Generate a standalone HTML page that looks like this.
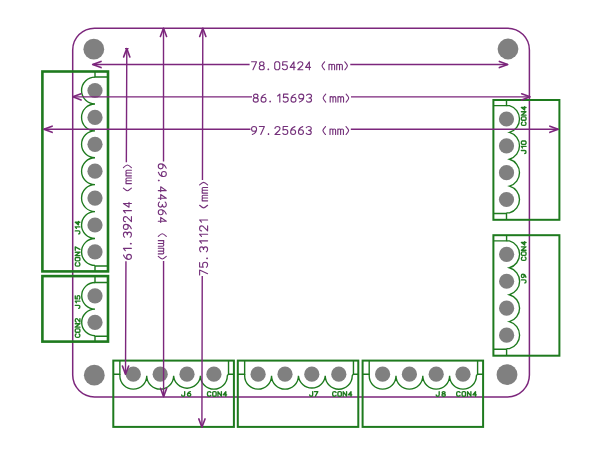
<!DOCTYPE html>
<html><head><meta charset="utf-8"><style>
html,body{margin:0;padding:0;background:#fff;width:600px;height:459px;overflow:hidden;}
svg{display:block;filter:blur(0.4px);}
</style></head><body>
<svg width="600" height="459" viewBox="0 0 600 459">
<path d="M94.5,28.2 H507.6 A21.8,21.8 0 0 1 529.4,50.0 V375.1 A21.8,21.8 0 0 1 507.6,396.9 H94.5 A21.8,21.8 0 0 1 72.7,375.1 V50.0 A21.8,21.8 0 0 1 94.5,28.2 Z" fill="none" stroke="#7c267c" stroke-width="1.5"/>
<circle cx="93.8" cy="49.2" r="10.4" fill="#808080"/>
<circle cx="508.0" cy="49.0" r="10.4" fill="#808080"/>
<circle cx="94.3" cy="375.2" r="10.4" fill="#808080"/>
<circle cx="507.0" cy="374.7" r="10.4" fill="#808080"/>
<rect x="42.4" y="71.5" width="65.6" height="199.9" fill="none" stroke="#1e7a1e" stroke-width="2.6"/>
<path d="M95.0,71.5 V77.05 H108.0 M95.0,271.4 V265.95 H108.0" fill="none" stroke="#1e7a1e" stroke-width="1.4"/>
<path d="M95.0,77.05 A13.45,13.45 0 0 0 95.0,103.95 A13.45,13.45 0 0 0 95.0,130.85 A13.45,13.45 0 0 0 95.0,157.75 A13.45,13.45 0 0 0 95.0,184.65 A13.45,13.45 0 0 0 95.0,211.55 A13.45,13.45 0 0 0 95.0,238.45 A13.45,13.45 0 0 0 95.0,265.35" fill="none" stroke="#1e7a1e" stroke-width="1.35"/>
<circle cx="95.0" cy="90.5" r="7.6" fill="#808080"/>
<circle cx="95.0" cy="117.4" r="7.6" fill="#808080"/>
<circle cx="95.0" cy="144.3" r="7.6" fill="#808080"/>
<circle cx="95.0" cy="171.2" r="7.6" fill="#808080"/>
<circle cx="95.0" cy="198.1" r="7.6" fill="#808080"/>
<circle cx="95.0" cy="225.0" r="7.6" fill="#808080"/>
<circle cx="95.0" cy="251.9" r="7.6" fill="#808080"/>
<rect x="42.4" y="276.1" width="65.6" height="65.5" fill="none" stroke="#1e7a1e" stroke-width="2.6"/>
<path d="M95.0,276.1 V282.5 H108.0 M95.0,341.6 V336.3 H108.0" fill="none" stroke="#1e7a1e" stroke-width="1.4"/>
<path d="M95.0,282.5 A13.3,13.3 0 0 0 95.0,309.1 A13.3,13.3 0 0 0 95.0,335.7" fill="none" stroke="#1e7a1e" stroke-width="1.35"/>
<circle cx="95.0" cy="295.8" r="7.6" fill="#808080"/>
<circle cx="95.0" cy="322.4" r="7.6" fill="#808080"/>
<rect x="493.4" y="100.0" width="66.0" height="119.8" fill="none" stroke="#1e7a1e" stroke-width="2.0"/>
<path d="M506.5,100.0 V105.58 H493.4 M506.5,219.8 V213.52 H493.4" fill="none" stroke="#1e7a1e" stroke-width="1.4"/>
<path d="M506.5,105.58 H509.50 A14.0,14.0 0 0 1 509.50,132.42 A14.0,14.0 0 0 1 509.50,159.25 A14.0,14.0 0 0 1 509.50,186.08 A14.0,14.0 0 0 1 509.50,212.92 H506.5" fill="none" stroke="#1e7a1e" stroke-width="1.35"/>
<circle cx="506.5" cy="119.0" r="7.6" fill="#808080"/>
<circle cx="506.5" cy="145.83" r="7.6" fill="#808080"/>
<circle cx="506.5" cy="172.67" r="7.6" fill="#808080"/>
<circle cx="506.5" cy="199.5" r="7.6" fill="#808080"/>
<rect x="493.4" y="235.2" width="66.0" height="120.5" fill="none" stroke="#1e7a1e" stroke-width="2.0"/>
<path d="M506.6,235.2 V240.83 H493.4 M506.6,355.7 V349.23 H493.4" fill="none" stroke="#1e7a1e" stroke-width="1.4"/>
<path d="M506.6,240.83 H509.40 A14.0,14.0 0 0 1 509.40,267.77 A14.0,14.0 0 0 1 509.40,294.73 A14.0,14.0 0 0 1 509.40,321.67 A14.0,14.0 0 0 1 509.40,348.62 H506.6" fill="none" stroke="#1e7a1e" stroke-width="1.35"/>
<circle cx="506.6" cy="254.3" r="7.6" fill="#808080"/>
<circle cx="506.6" cy="281.25" r="7.6" fill="#808080"/>
<circle cx="506.6" cy="308.2" r="7.6" fill="#808080"/>
<circle cx="506.6" cy="335.15" r="7.6" fill="#808080"/>
<rect x="113.3" y="360.6" width="120.6" height="66.3" fill="none" stroke="#1e7a1e" stroke-width="2.0"/>
<path d="M113.3,374.2 H119.87 V360.6 M233.9,374.2 H228.53 V360.6" fill="none" stroke="#1e7a1e" stroke-width="1.4"/>
<path d="M119.87,374.2 V375.7 A13.43,13.43 0 0 0 146.73,375.7 A13.43,13.43 0 0 0 173.63,375.7 A13.43,13.43 0 0 0 200.43,375.7 A13.43,13.43 0 0 0 227.33,375.7 L228.53,374.2" fill="none" stroke="#1e7a1e" stroke-width="1.35"/>
<circle cx="133.3" cy="374.2" r="7.6" fill="#808080"/>
<circle cx="160.2" cy="374.2" r="7.6" fill="#808080"/>
<circle cx="187.0" cy="374.2" r="7.6" fill="#808080"/>
<circle cx="213.9" cy="374.2" r="7.6" fill="#808080"/>
<rect x="237.8" y="360.6" width="120.5" height="66.3" fill="none" stroke="#1e7a1e" stroke-width="2.0"/>
<path d="M237.8,374.2 H244.65 V360.6 M358.3,374.2 H353.45 V360.6" fill="none" stroke="#1e7a1e" stroke-width="1.4"/>
<path d="M244.65,374.2 V375.7 A13.45,13.45 0 0 0 271.55,375.7 A13.45,13.45 0 0 0 298.45,375.7 A13.45,13.45 0 0 0 325.25,375.7 A13.45,13.45 0 0 0 352.25,375.7 L353.45,374.2" fill="none" stroke="#1e7a1e" stroke-width="1.35"/>
<circle cx="258.1" cy="374.2" r="7.6" fill="#808080"/>
<circle cx="285.0" cy="374.2" r="7.6" fill="#808080"/>
<circle cx="311.8" cy="374.2" r="7.6" fill="#808080"/>
<circle cx="338.8" cy="374.2" r="7.6" fill="#808080"/>
<rect x="362.6" y="360.6" width="120.5" height="66.3" fill="none" stroke="#1e7a1e" stroke-width="2.0"/>
<path d="M362.6,374.2 H369.2 V360.6 M483.1,374.2 H477.6 V360.6" fill="none" stroke="#1e7a1e" stroke-width="1.4"/>
<path d="M369.2,374.2 V375.7 A13.4,13.4 0 0 0 396.0,375.7 A13.4,13.4 0 0 0 422.8,375.7 A13.4,13.4 0 0 0 449.6,375.7 A13.4,13.4 0 0 0 476.4,375.7 L477.6,374.2" fill="none" stroke="#1e7a1e" stroke-width="1.35"/>
<circle cx="382.6" cy="374.2" r="7.6" fill="#808080"/>
<circle cx="409.4" cy="374.2" r="7.6" fill="#808080"/>
<circle cx="436.2" cy="374.2" r="7.6" fill="#808080"/>
<circle cx="463.0" cy="374.2" r="7.6" fill="#808080"/>
<g transform="translate(181.68,391.57) rotate(0)" fill="none" stroke="#1e7a1e" stroke-width="1.35" stroke-linecap="round" stroke-linejoin="round"><path transform="translate(0.00,0) scale(0.68,0.58)" d="M4.4,0 V5.8 Q4.4,8 2.2,8 Q0,8 0,5.8" vector-effect="non-scaling-stroke"/><path transform="translate(5.75,0) scale(0.68,0.58)" d="M4.3,0.1 Q0,1.6 0,5.6 Q0,8 2.5,8 Q5,8 5,5.6 Q5,3.2 2.5,3.2 Q0.8,3.2 0.1,4.6" vector-effect="non-scaling-stroke"/></g>
<g transform="translate(207.48,391.57) rotate(0)" fill="none" stroke="#1e7a1e" stroke-width="1.35" stroke-linecap="round" stroke-linejoin="round"><path transform="translate(0.00,0) scale(0.68,0.58)" d="M5,1.6 Q4.4,0 2.5,0 Q0,0 0,2.6 V5.4 Q0,8 2.5,8 Q4.4,8 5,6.4" vector-effect="non-scaling-stroke"/><path transform="translate(5.25,0) scale(0.68,0.58)" d="M1.6,0 H3.4 Q5,0 5,1.6 V6.4 Q5,8 3.4,8 H1.6 Q0,8 0,6.4 V1.6 Q0,0 1.6,0 Z" vector-effect="non-scaling-stroke"/><path transform="translate(10.50,0) scale(0.68,0.58)" d="M0,8 V0 L5,8 V0" vector-effect="non-scaling-stroke"/><path transform="translate(15.75,0) scale(0.68,0.58)" d="M3.8,8 V0 L0,5.6 H5" vector-effect="non-scaling-stroke"/></g>
<g transform="translate(309.68,391.57) rotate(0)" fill="none" stroke="#1e7a1e" stroke-width="1.35" stroke-linecap="round" stroke-linejoin="round"><path transform="translate(0.00,0) scale(0.68,0.58)" d="M4.4,0 V5.8 Q4.4,8 2.2,8 Q0,8 0,5.8" vector-effect="non-scaling-stroke"/><path transform="translate(4.75,0) scale(0.68,0.58)" d="M0,0 H5 L1.4,8" vector-effect="non-scaling-stroke"/></g>
<g transform="translate(332.68,391.57) rotate(0)" fill="none" stroke="#1e7a1e" stroke-width="1.35" stroke-linecap="round" stroke-linejoin="round"><path transform="translate(0.00,0) scale(0.68,0.58)" d="M5,1.6 Q4.4,0 2.5,0 Q0,0 0,2.6 V5.4 Q0,8 2.5,8 Q4.4,8 5,6.4" vector-effect="non-scaling-stroke"/><path transform="translate(5.25,0) scale(0.68,0.58)" d="M1.6,0 H3.4 Q5,0 5,1.6 V6.4 Q5,8 3.4,8 H1.6 Q0,8 0,6.4 V1.6 Q0,0 1.6,0 Z" vector-effect="non-scaling-stroke"/><path transform="translate(10.50,0) scale(0.68,0.58)" d="M0,8 V0 L5,8 V0" vector-effect="non-scaling-stroke"/><path transform="translate(15.75,0) scale(0.68,0.58)" d="M3.8,8 V0 L0,5.6 H5" vector-effect="non-scaling-stroke"/></g>
<g transform="translate(436.18,391.57) rotate(0)" fill="none" stroke="#1e7a1e" stroke-width="1.35" stroke-linecap="round" stroke-linejoin="round"><path transform="translate(0.00,0) scale(0.68,0.58)" d="M4.4,0 V5.8 Q4.4,8 2.2,8 Q0,8 0,5.8" vector-effect="non-scaling-stroke"/><path transform="translate(5.75,0) scale(0.68,0.58)" d="M2.5,3.8 Q0.3,3.8 0.3,1.9 Q0.3,0 2.5,0 Q4.7,0 4.7,1.9 Q4.7,3.8 2.5,3.8 Q0,3.8 0,5.9 Q0,8 2.5,8 Q5,8 5,5.9 Q5,3.8 2.5,3.8 Z" vector-effect="non-scaling-stroke"/></g>
<g transform="translate(456.68,391.57) rotate(0)" fill="none" stroke="#1e7a1e" stroke-width="1.35" stroke-linecap="round" stroke-linejoin="round"><path transform="translate(0.00,0) scale(0.68,0.58)" d="M5,1.6 Q4.4,0 2.5,0 Q0,0 0,2.6 V5.4 Q0,8 2.5,8 Q4.4,8 5,6.4" vector-effect="non-scaling-stroke"/><path transform="translate(5.42,0) scale(0.68,0.58)" d="M1.6,0 H3.4 Q5,0 5,1.6 V6.4 Q5,8 3.4,8 H1.6 Q0,8 0,6.4 V1.6 Q0,0 1.6,0 Z" vector-effect="non-scaling-stroke"/><path transform="translate(10.83,0) scale(0.68,0.58)" d="M0,8 V0 L5,8 V0" vector-effect="non-scaling-stroke"/><path transform="translate(16.25,0) scale(0.68,0.58)" d="M3.8,8 V0 L0,5.6 H5" vector-effect="non-scaling-stroke"/></g>
<g transform="translate(75.27,233.92) rotate(-90)" fill="none" stroke="#1e7a1e" stroke-width="1.35" stroke-linecap="round" stroke-linejoin="round"><path transform="translate(0.00,0) scale(0.68,0.58)" d="M4.4,0 V5.8 Q4.4,8 2.2,8 Q0,8 0,5.8" vector-effect="non-scaling-stroke"/><path transform="translate(5.12,0) scale(0.68,0.58)" d="M0.6,1.9 L2.8,0 V8" vector-effect="non-scaling-stroke"/><path transform="translate(9.05,0) scale(0.68,0.58)" d="M3.8,8 V0 L0,5.6 H5" vector-effect="non-scaling-stroke"/></g>
<g transform="translate(75.27,266.12) rotate(-90)" fill="none" stroke="#1e7a1e" stroke-width="1.35" stroke-linecap="round" stroke-linejoin="round"><path transform="translate(0.00,0) scale(0.68,0.58)" d="M5,1.6 Q4.4,0 2.5,0 Q0,0 0,2.6 V5.4 Q0,8 2.5,8 Q4.4,8 5,6.4" vector-effect="non-scaling-stroke"/><path transform="translate(5.25,0) scale(0.68,0.58)" d="M1.6,0 H3.4 Q5,0 5,1.6 V6.4 Q5,8 3.4,8 H1.6 Q0,8 0,6.4 V1.6 Q0,0 1.6,0 Z" vector-effect="non-scaling-stroke"/><path transform="translate(10.50,0) scale(0.68,0.58)" d="M0,8 V0 L5,8 V0" vector-effect="non-scaling-stroke"/><path transform="translate(15.75,0) scale(0.68,0.58)" d="M0,0 H5 L1.4,8" vector-effect="non-scaling-stroke"/></g>
<g transform="translate(75.27,308.32) rotate(-90)" fill="none" stroke="#1e7a1e" stroke-width="1.35" stroke-linecap="round" stroke-linejoin="round"><path transform="translate(0.00,0) scale(0.68,0.58)" d="M4.4,0 V5.8 Q4.4,8 2.2,8 Q0,8 0,5.8" vector-effect="non-scaling-stroke"/><path transform="translate(5.23,0) scale(0.68,0.58)" d="M0.6,1.9 L2.8,0 V8" vector-effect="non-scaling-stroke"/><path transform="translate(9.25,0) scale(0.68,0.58)" d="M4.8,0 H0.4 L0.2,3.6 Q1,3 2.5,3 Q5,3 5,5.5 Q5,8 2.5,8 Q0.6,8 0,6.8" vector-effect="non-scaling-stroke"/></g>
<g transform="translate(75.27,337.32) rotate(-90)" fill="none" stroke="#1e7a1e" stroke-width="1.35" stroke-linecap="round" stroke-linejoin="round"><path transform="translate(0.00,0) scale(0.68,0.58)" d="M5,1.6 Q4.4,0 2.5,0 Q0,0 0,2.6 V5.4 Q0,8 2.5,8 Q4.4,8 5,6.4" vector-effect="non-scaling-stroke"/><path transform="translate(5.08,0) scale(0.68,0.58)" d="M1.6,0 H3.4 Q5,0 5,1.6 V6.4 Q5,8 3.4,8 H1.6 Q0,8 0,6.4 V1.6 Q0,0 1.6,0 Z" vector-effect="non-scaling-stroke"/><path transform="translate(10.17,0) scale(0.68,0.58)" d="M0,8 V0 L5,8 V0" vector-effect="non-scaling-stroke"/><path transform="translate(15.25,0) scale(0.68,0.58)" d="M0,2 Q0,0 2.5,0 Q5,0 5,2.1 Q5,3.4 3.6,4.5 L0,8 H5" vector-effect="non-scaling-stroke"/></g>
<g transform="translate(521.38,125.42) rotate(-90)" fill="none" stroke="#1e7a1e" stroke-width="1.35" stroke-linecap="round" stroke-linejoin="round"><path transform="translate(0.00,0) scale(0.68,0.58)" d="M5,1.6 Q4.4,0 2.5,0 Q0,0 0,2.6 V5.4 Q0,8 2.5,8 Q4.4,8 5,6.4" vector-effect="non-scaling-stroke"/><path transform="translate(5.12,0) scale(0.68,0.58)" d="M1.6,0 H3.4 Q5,0 5,1.6 V6.4 Q5,8 3.4,8 H1.6 Q0,8 0,6.4 V1.6 Q0,0 1.6,0 Z" vector-effect="non-scaling-stroke"/><path transform="translate(10.23,0) scale(0.68,0.58)" d="M0,8 V0 L5,8 V0" vector-effect="non-scaling-stroke"/><path transform="translate(15.35,0) scale(0.68,0.58)" d="M3.8,8 V0 L0,5.6 H5" vector-effect="non-scaling-stroke"/></g>
<g transform="translate(521.38,153.52) rotate(-90)" fill="none" stroke="#1e7a1e" stroke-width="1.35" stroke-linecap="round" stroke-linejoin="round"><path transform="translate(0.00,0) scale(0.68,0.58)" d="M4.4,0 V5.8 Q4.4,8 2.2,8 Q0,8 0,5.8" vector-effect="non-scaling-stroke"/><path transform="translate(5.17,0) scale(0.68,0.58)" d="M0.6,1.9 L2.8,0 V8" vector-effect="non-scaling-stroke"/><path transform="translate(9.15,0) scale(0.68,0.58)" d="M1.3,0 H3.7 L5,1.3 V6.7 L3.7,8 H1.3 L0,6.7 V1.3 Z" vector-effect="non-scaling-stroke"/></g>
<g transform="translate(521.38,260.43) rotate(-90)" fill="none" stroke="#1e7a1e" stroke-width="1.35" stroke-linecap="round" stroke-linejoin="round"><path transform="translate(0.00,0) scale(0.68,0.58)" d="M5,1.6 Q4.4,0 2.5,0 Q0,0 0,2.6 V5.4 Q0,8 2.5,8 Q4.4,8 5,6.4" vector-effect="non-scaling-stroke"/><path transform="translate(5.12,0) scale(0.68,0.58)" d="M1.6,0 H3.4 Q5,0 5,1.6 V6.4 Q5,8 3.4,8 H1.6 Q0,8 0,6.4 V1.6 Q0,0 1.6,0 Z" vector-effect="non-scaling-stroke"/><path transform="translate(10.23,0) scale(0.68,0.58)" d="M0,8 V0 L5,8 V0" vector-effect="non-scaling-stroke"/><path transform="translate(15.35,0) scale(0.68,0.58)" d="M3.8,8 V0 L0,5.6 H5" vector-effect="non-scaling-stroke"/></g>
<g transform="translate(521.38,282.93) rotate(-90)" fill="none" stroke="#1e7a1e" stroke-width="1.35" stroke-linecap="round" stroke-linejoin="round"><path transform="translate(0.00,0) scale(0.68,0.58)" d="M4.4,0 V5.8 Q4.4,8 2.2,8 Q0,8 0,5.8" vector-effect="non-scaling-stroke"/><path transform="translate(5.25,0) scale(0.68,0.58)" d="M0.7,7.9 Q5,6.4 5,2.4 Q5,0 2.5,0 Q0,0 0,2.4 Q0,4.8 2.5,4.8 Q4.2,4.8 4.9,3.4" vector-effect="non-scaling-stroke"/></g>
<path d="M92.7,64.5 H249.6 M350.3,64.5 H507.7 " fill="none" stroke="#7c267c" stroke-width="1.4"/>
<path d="M101.00,61.40 L92.70,64.50 L101.00,67.60 M499.40,67.60 L507.70,64.50 L499.40,61.40" fill="none" stroke="#7c267c" stroke-width="1.6" stroke-linejoin="round" stroke-linecap="round"/>
<g transform="translate(251.56,61.76) rotate(0)" fill="none" stroke="#74307a" stroke-width="1.12" stroke-linecap="round" stroke-linejoin="round"><path transform="translate(0.00,0) scale(1.0,1.0)" d="M0,0 H5 L1.4,8" vector-effect="non-scaling-stroke"/><path transform="translate(7.72,0) scale(1.0,1.0)" d="M2.5,3.8 Q0.3,3.8 0.3,1.9 Q0.3,0 2.5,0 Q4.7,0 4.7,1.9 Q4.7,3.8 2.5,3.8 Q0,3.8 0,5.9 Q0,8 2.5,8 Q5,8 5,5.9 Q5,3.8 2.5,3.8 Z" vector-effect="non-scaling-stroke"/><path transform="translate(16.13,0) scale(1.0,1.0)" d="M0.6,7.0 V7.9 M0.2,7.45 H1.0" vector-effect="non-scaling-stroke"/><path transform="translate(23.15,0) scale(1.0,1.0)" d="M1.3,0 H3.7 L5,1.3 V6.7 L3.7,8 H1.3 L0,6.7 V1.3 Z" vector-effect="non-scaling-stroke"/><path transform="translate(30.86,0) scale(1.0,1.0)" d="M4.8,0 H0.4 L0.2,3.6 Q1,3 2.5,3 Q5,3 5,5.5 Q5,8 2.5,8 Q0.6,8 0,6.8" vector-effect="non-scaling-stroke"/><path transform="translate(38.58,0) scale(1.0,1.0)" d="M3.8,8 V0 L0,5.6 H5" vector-effect="non-scaling-stroke"/><path transform="translate(46.29,0) scale(1.0,1.0)" d="M0,2 Q0,0 2.5,0 Q5,0 5,2.1 Q5,3.4 3.6,4.5 L0,8 H5" vector-effect="non-scaling-stroke"/><path transform="translate(54.01,0) scale(1.0,1.0)" d="M3.8,8 V0 L0,5.6 H5" vector-effect="non-scaling-stroke"/><path transform="translate(70.43,0) scale(1.0,1.0)" d="M2.6,0 Q0,2.8 0,4 Q0,5.2 2.6,8" vector-effect="non-scaling-stroke"/><path transform="translate(77.45,0) scale(1.0,1.0)" d="M0,8 V2.5 M0,3.5 Q0.3,2.5 1.4,2.5 Q2.8,2.5 2.8,3.6 V8 M2.8,3.6 Q2.8,2.5 4.2,2.5 Q5.6,2.5 5.6,3.6 V8" vector-effect="non-scaling-stroke"/><path transform="translate(85.17,0) scale(1.0,1.0)" d="M0,8 V2.5 M0,3.5 Q0.3,2.5 1.4,2.5 Q2.8,2.5 2.8,3.6 V8 M2.8,3.6 Q2.8,2.5 4.2,2.5 Q5.6,2.5 5.6,3.6 V8" vector-effect="non-scaling-stroke"/><path transform="translate(93.28,0) scale(1.0,1.0)" d="M0,0 Q2.6,2.8 2.6,4 Q2.6,5.2 0,8" vector-effect="non-scaling-stroke"/></g>
<path d="M72.8,96.85 H252.0 M351.0,96.85 H530.0 " fill="none" stroke="#7c267c" stroke-width="1.4"/>
<path d="M81.10,93.75 L72.80,96.85 L81.10,99.95 M521.70,99.95 L530.00,96.85 L521.70,93.75" fill="none" stroke="#7c267c" stroke-width="1.6" stroke-linejoin="round" stroke-linecap="round"/>
<g transform="translate(253.26,94.11) rotate(0)" fill="none" stroke="#74307a" stroke-width="1.12" stroke-linecap="round" stroke-linejoin="round"><path transform="translate(0.00,0) scale(1.0,1.0)" d="M2.5,3.8 Q0.3,3.8 0.3,1.9 Q0.3,0 2.5,0 Q4.7,0 4.7,1.9 Q4.7,3.8 2.5,3.8 Q0,3.8 0,5.9 Q0,8 2.5,8 Q5,8 5,5.9 Q5,3.8 2.5,3.8 Z" vector-effect="non-scaling-stroke"/><path transform="translate(7.78,0) scale(1.0,1.0)" d="M4.3,0.1 Q0,1.6 0,5.6 Q0,8 2.5,8 Q5,8 5,5.6 Q5,3.2 2.5,3.2 Q0.8,3.2 0.1,4.6" vector-effect="non-scaling-stroke"/><path transform="translate(16.26,0) scale(1.0,1.0)" d="M0.6,7.0 V7.9 M0.2,7.45 H1.0" vector-effect="non-scaling-stroke"/><path transform="translate(23.76,0) scale(1.0,1.0)" d="M0.6,1.9 L2.8,0 V8" vector-effect="non-scaling-stroke"/><path transform="translate(29.95,0) scale(1.0,1.0)" d="M4.8,0 H0.4 L0.2,3.6 Q1,3 2.5,3 Q5,3 5,5.5 Q5,8 2.5,8 Q0.6,8 0,6.8" vector-effect="non-scaling-stroke"/><path transform="translate(37.73,0) scale(1.0,1.0)" d="M4.3,0.1 Q0,1.6 0,5.6 Q0,8 2.5,8 Q5,8 5,5.6 Q5,3.2 2.5,3.2 Q0.8,3.2 0.1,4.6" vector-effect="non-scaling-stroke"/><path transform="translate(45.51,0) scale(1.0,1.0)" d="M0.7,7.9 Q5,6.4 5,2.4 Q5,0 2.5,0 Q0,0 0,2.4 Q0,4.8 2.5,4.8 Q4.2,4.8 4.9,3.4" vector-effect="non-scaling-stroke"/><path transform="translate(53.28,0) scale(1.0,1.0)" d="M0,1.2 Q0.6,0 2.5,0 Q5,0 5,2 Q5,3.9 2.4,3.9 Q5,3.9 5,6 Q5,8 2.5,8 Q0.6,8 0,6.8" vector-effect="non-scaling-stroke"/><path transform="translate(69.85,0) scale(1.0,1.0)" d="M2.6,0 Q0,2.8 0,4 Q0,5.2 2.6,8" vector-effect="non-scaling-stroke"/><path transform="translate(76.92,0) scale(1.0,1.0)" d="M0,8 V2.5 M0,3.5 Q0.3,2.5 1.4,2.5 Q2.8,2.5 2.8,3.6 V8 M2.8,3.6 Q2.8,2.5 4.2,2.5 Q5.6,2.5 5.6,3.6 V8" vector-effect="non-scaling-stroke"/><path transform="translate(84.70,0) scale(1.0,1.0)" d="M0,8 V2.5 M0,3.5 Q0.3,2.5 1.4,2.5 Q2.8,2.5 2.8,3.6 V8 M2.8,3.6 Q2.8,2.5 4.2,2.5 Q5.6,2.5 5.6,3.6 V8" vector-effect="non-scaling-stroke"/><path transform="translate(92.88,0) scale(1.0,1.0)" d="M0,0 Q2.6,2.8 2.6,4 Q2.6,5.2 0,8" vector-effect="non-scaling-stroke"/></g>
<path d="M43.8,129.25 H250.5 M350.8,129.25 H558.2 " fill="none" stroke="#7c267c" stroke-width="1.4"/>
<path d="M52.10,126.15 L43.80,129.25 L52.10,132.35 M549.90,132.35 L558.20,129.25 L549.90,126.15" fill="none" stroke="#7c267c" stroke-width="1.6" stroke-linejoin="round" stroke-linecap="round"/>
<g transform="translate(251.56,126.51) rotate(0)" fill="none" stroke="#74307a" stroke-width="1.12" stroke-linecap="round" stroke-linejoin="round"><path transform="translate(0.00,0) scale(1.0,1.0)" d="M0.7,7.9 Q5,6.4 5,2.4 Q5,0 2.5,0 Q0,0 0,2.4 Q0,4.8 2.5,4.8 Q4.2,4.8 4.9,3.4" vector-effect="non-scaling-stroke"/><path transform="translate(7.81,0) scale(1.0,1.0)" d="M0,0 H5 L1.4,8" vector-effect="non-scaling-stroke"/><path transform="translate(16.33,0) scale(1.0,1.0)" d="M0.6,7.0 V7.9 M0.2,7.45 H1.0" vector-effect="non-scaling-stroke"/><path transform="translate(23.44,0) scale(1.0,1.0)" d="M0,2 Q0,0 2.5,0 Q5,0 5,2.1 Q5,3.4 3.6,4.5 L0,8 H5" vector-effect="non-scaling-stroke"/><path transform="translate(31.26,0) scale(1.0,1.0)" d="M4.8,0 H0.4 L0.2,3.6 Q1,3 2.5,3 Q5,3 5,5.5 Q5,8 2.5,8 Q0.6,8 0,6.8" vector-effect="non-scaling-stroke"/><path transform="translate(39.07,0) scale(1.0,1.0)" d="M4.3,0.1 Q0,1.6 0,5.6 Q0,8 2.5,8 Q5,8 5,5.6 Q5,3.2 2.5,3.2 Q0.8,3.2 0.1,4.6" vector-effect="non-scaling-stroke"/><path transform="translate(46.89,0) scale(1.0,1.0)" d="M4.3,0.1 Q0,1.6 0,5.6 Q0,8 2.5,8 Q5,8 5,5.6 Q5,3.2 2.5,3.2 Q0.8,3.2 0.1,4.6" vector-effect="non-scaling-stroke"/><path transform="translate(54.70,0) scale(1.0,1.0)" d="M0,1.2 Q0.6,0 2.5,0 Q5,0 5,2 Q5,3.9 2.4,3.9 Q5,3.9 5,6 Q5,8 2.5,8 Q0.6,8 0,6.8" vector-effect="non-scaling-stroke"/><path transform="translate(71.34,0) scale(1.0,1.0)" d="M2.6,0 Q0,2.8 0,4 Q0,5.2 2.6,8" vector-effect="non-scaling-stroke"/><path transform="translate(78.45,0) scale(1.0,1.0)" d="M0,8 V2.5 M0,3.5 Q0.3,2.5 1.4,2.5 Q2.8,2.5 2.8,3.6 V8 M2.8,3.6 Q2.8,2.5 4.2,2.5 Q5.6,2.5 5.6,3.6 V8" vector-effect="non-scaling-stroke"/><path transform="translate(86.26,0) scale(1.0,1.0)" d="M0,8 V2.5 M0,3.5 Q0.3,2.5 1.4,2.5 Q2.8,2.5 2.8,3.6 V8 M2.8,3.6 Q2.8,2.5 4.2,2.5 Q5.6,2.5 5.6,3.6 V8" vector-effect="non-scaling-stroke"/><path transform="translate(94.48,0) scale(1.0,1.0)" d="M0,0 Q2.6,2.8 2.6,4 Q2.6,5.2 0,8" vector-effect="non-scaling-stroke"/></g>
<path d="M126.8,48.6 L126.35,162.2 M125.95,261.3 L125.5,374.3  M125.0,48.6 H128.6" fill="none" stroke="#7c267c" stroke-width="1.4"/>
<path d="M129.87,56.91 L126.80,48.60 L123.67,56.89 M122.43,365.99 L125.50,374.30 L128.63,366.01" fill="none" stroke="#7c267c" stroke-width="1.6" stroke-linejoin="round" stroke-linecap="round"/>
<g transform="translate(123.41,259.34) rotate(-90)" fill="none" stroke="#74307a" stroke-width="1.12" stroke-linecap="round" stroke-linejoin="round"><path transform="translate(0.00,0) scale(1.0,1.0)" d="M4.3,0.1 Q0,1.6 0,5.6 Q0,8 2.5,8 Q5,8 5,5.6 Q5,3.2 2.5,3.2 Q0.8,3.2 0.1,4.6" vector-effect="non-scaling-stroke"/><path transform="translate(8.20,0) scale(1.0,1.0)" d="M0.6,1.9 L2.8,0 V8" vector-effect="non-scaling-stroke"/><path transform="translate(15.09,0) scale(1.0,1.0)" d="M0.6,7.0 V7.9 M0.2,7.45 H1.0" vector-effect="non-scaling-stroke"/><path transform="translate(22.16,0) scale(1.0,1.0)" d="M0,1.2 Q0.6,0 2.5,0 Q5,0 5,2 Q5,3.9 2.4,3.9 Q5,3.9 5,6 Q5,8 2.5,8 Q0.6,8 0,6.8" vector-effect="non-scaling-stroke"/><path transform="translate(29.94,0) scale(1.0,1.0)" d="M0.7,7.9 Q5,6.4 5,2.4 Q5,0 2.5,0 Q0,0 0,2.4 Q0,4.8 2.5,4.8 Q4.2,4.8 4.9,3.4" vector-effect="non-scaling-stroke"/><path transform="translate(37.71,0) scale(1.0,1.0)" d="M0,2 Q0,0 2.5,0 Q5,0 5,2.1 Q5,3.4 3.6,4.5 L0,8 H5" vector-effect="non-scaling-stroke"/><path transform="translate(45.91,0) scale(1.0,1.0)" d="M0.6,1.9 L2.8,0 V8" vector-effect="non-scaling-stroke"/><path transform="translate(52.10,0) scale(1.0,1.0)" d="M3.8,8 V0 L0,5.6 H5" vector-effect="non-scaling-stroke"/><path transform="translate(68.65,0) scale(1.0,1.0)" d="M2.6,0 Q0,2.8 0,4 Q0,5.2 2.6,8" vector-effect="non-scaling-stroke"/><path transform="translate(75.73,0) scale(1.0,1.0)" d="M0,8 V2.5 M0,3.5 Q0.3,2.5 1.4,2.5 Q2.8,2.5 2.8,3.6 V8 M2.8,3.6 Q2.8,2.5 4.2,2.5 Q5.6,2.5 5.6,3.6 V8" vector-effect="non-scaling-stroke"/><path transform="translate(83.50,0) scale(1.0,1.0)" d="M0,8 V2.5 M0,3.5 Q0.3,2.5 1.4,2.5 Q2.8,2.5 2.8,3.6 V8 M2.8,3.6 Q2.8,2.5 4.2,2.5 Q5.6,2.5 5.6,3.6 V8" vector-effect="non-scaling-stroke"/><path transform="translate(91.68,0) scale(1.0,1.0)" d="M0,0 Q2.6,2.8 2.6,4 Q2.6,5.2 0,8" vector-effect="non-scaling-stroke"/></g>
<path d="M163.5,28.2 L163.54,161.6 M163.56,261.0 L163.6,396.6 " fill="none" stroke="#7c267c" stroke-width="1.4"/>
<path d="M166.60,36.50 L163.50,28.20 L160.40,36.50 M160.50,388.30 L163.60,396.60 L166.70,388.30" fill="none" stroke="#7c267c" stroke-width="1.6" stroke-linejoin="round" stroke-linecap="round"/>
<g transform="translate(166.29,163.86) rotate(90)" fill="none" stroke="#74307a" stroke-width="1.12" stroke-linecap="round" stroke-linejoin="round"><path transform="translate(0.00,0) scale(1.0,1.0)" d="M4.3,0.1 Q0,1.6 0,5.6 Q0,8 2.5,8 Q5,8 5,5.6 Q5,3.2 2.5,3.2 Q0.8,3.2 0.1,4.6" vector-effect="non-scaling-stroke"/><path transform="translate(7.65,0) scale(1.0,1.0)" d="M0.7,7.9 Q5,6.4 5,2.4 Q5,0 2.5,0 Q0,0 0,2.4 Q0,4.8 2.5,4.8 Q4.2,4.8 4.9,3.4" vector-effect="non-scaling-stroke"/><path transform="translate(15.99,0) scale(1.0,1.0)" d="M0.6,7.0 V7.9 M0.2,7.45 H1.0" vector-effect="non-scaling-stroke"/><path transform="translate(22.95,0) scale(1.0,1.0)" d="M3.8,8 V0 L0,5.6 H5" vector-effect="non-scaling-stroke"/><path transform="translate(30.60,0) scale(1.0,1.0)" d="M3.8,8 V0 L0,5.6 H5" vector-effect="non-scaling-stroke"/><path transform="translate(38.25,0) scale(1.0,1.0)" d="M0,1.2 Q0.6,0 2.5,0 Q5,0 5,2 Q5,3.9 2.4,3.9 Q5,3.9 5,6 Q5,8 2.5,8 Q0.6,8 0,6.8" vector-effect="non-scaling-stroke"/><path transform="translate(45.89,0) scale(1.0,1.0)" d="M4.3,0.1 Q0,1.6 0,5.6 Q0,8 2.5,8 Q5,8 5,5.6 Q5,3.2 2.5,3.2 Q0.8,3.2 0.1,4.6" vector-effect="non-scaling-stroke"/><path transform="translate(53.54,0) scale(1.0,1.0)" d="M3.8,8 V0 L0,5.6 H5" vector-effect="non-scaling-stroke"/><path transform="translate(69.83,0) scale(1.0,1.0)" d="M2.6,0 Q0,2.8 0,4 Q0,5.2 2.6,8" vector-effect="non-scaling-stroke"/><path transform="translate(76.79,0) scale(1.0,1.0)" d="M0,8 V2.5 M0,3.5 Q0.3,2.5 1.4,2.5 Q2.8,2.5 2.8,3.6 V8 M2.8,3.6 Q2.8,2.5 4.2,2.5 Q5.6,2.5 5.6,3.6 V8" vector-effect="non-scaling-stroke"/><path transform="translate(84.44,0) scale(1.0,1.0)" d="M0,8 V2.5 M0,3.5 Q0.3,2.5 1.4,2.5 Q2.8,2.5 2.8,3.6 V8 M2.8,3.6 Q2.8,2.5 4.2,2.5 Q5.6,2.5 5.6,3.6 V8" vector-effect="non-scaling-stroke"/><path transform="translate(92.48,0) scale(1.0,1.0)" d="M0,0 Q2.6,2.8 2.6,4 Q2.6,5.2 0,8" vector-effect="non-scaling-stroke"/></g>
<path d="M202.8,28.2 L202.46,180.1 M202.24,276.1 L201.9,427.2 " fill="none" stroke="#7c267c" stroke-width="1.4"/>
<path d="M205.88,36.51 L202.80,28.20 L199.68,36.49 M198.82,418.89 L201.90,427.20 L205.02,418.91" fill="none" stroke="#7c267c" stroke-width="1.6" stroke-linejoin="round" stroke-linecap="round"/>
<g transform="translate(199.61,275.04) rotate(-90)" fill="none" stroke="#74307a" stroke-width="1.12" stroke-linecap="round" stroke-linejoin="round"><path transform="translate(0.00,0) scale(1.0,1.0)" d="M0,0 H5 L1.4,8" vector-effect="non-scaling-stroke"/><path transform="translate(7.74,0) scale(1.0,1.0)" d="M4.8,0 H0.4 L0.2,3.6 Q1,3 2.5,3 Q5,3 5,5.5 Q5,8 2.5,8 Q0.6,8 0,6.8" vector-effect="non-scaling-stroke"/><path transform="translate(16.18,0) scale(1.0,1.0)" d="M0.6,7.0 V7.9 M0.2,7.45 H1.0" vector-effect="non-scaling-stroke"/><path transform="translate(23.22,0) scale(1.0,1.0)" d="M0,1.2 Q0.6,0 2.5,0 Q5,0 5,2 Q5,3.9 2.4,3.9 Q5,3.9 5,6 Q5,8 2.5,8 Q0.6,8 0,6.8" vector-effect="non-scaling-stroke"/><path transform="translate(31.37,0) scale(1.0,1.0)" d="M0.6,1.9 L2.8,0 V8" vector-effect="non-scaling-stroke"/><path transform="translate(37.95,0) scale(1.0,1.0)" d="M0.6,1.9 L2.8,0 V8" vector-effect="non-scaling-stroke"/><path transform="translate(44.11,0) scale(1.0,1.0)" d="M0,2 Q0,0 2.5,0 Q5,0 5,2.1 Q5,3.4 3.6,4.5 L0,8 H5" vector-effect="non-scaling-stroke"/><path transform="translate(52.27,0) scale(1.0,1.0)" d="M0.6,1.9 L2.8,0 V8" vector-effect="non-scaling-stroke"/><path transform="translate(67.16,0) scale(1.0,1.0)" d="M2.6,0 Q0,2.8 0,4 Q0,5.2 2.6,8" vector-effect="non-scaling-stroke"/><path transform="translate(74.20,0) scale(1.0,1.0)" d="M0,8 V2.5 M0,3.5 Q0.3,2.5 1.4,2.5 Q2.8,2.5 2.8,3.6 V8 M2.8,3.6 Q2.8,2.5 4.2,2.5 Q5.6,2.5 5.6,3.6 V8" vector-effect="non-scaling-stroke"/><path transform="translate(81.94,0) scale(1.0,1.0)" d="M0,8 V2.5 M0,3.5 Q0.3,2.5 1.4,2.5 Q2.8,2.5 2.8,3.6 V8 M2.8,3.6 Q2.8,2.5 4.2,2.5 Q5.6,2.5 5.6,3.6 V8" vector-effect="non-scaling-stroke"/><path transform="translate(90.08,0) scale(1.0,1.0)" d="M0,0 Q2.6,2.8 2.6,4 Q2.6,5.2 0,8" vector-effect="non-scaling-stroke"/></g>
</svg>
</body></html>
